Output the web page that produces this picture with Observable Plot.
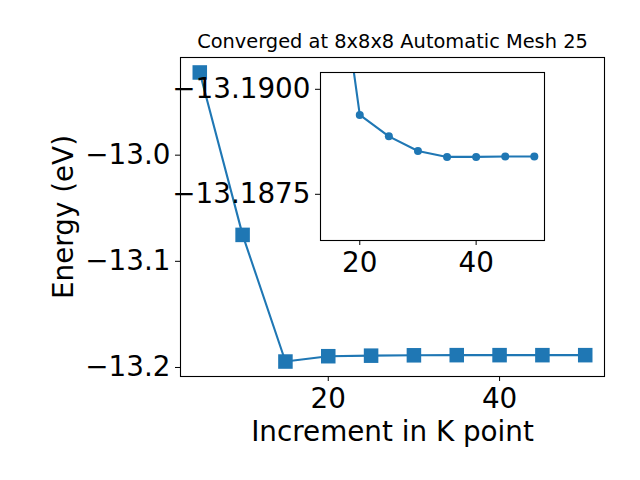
<!DOCTYPE html>
<html>
<head>
<meta charset="utf-8">
<script src="https://cdn.jsdelivr.net/npm/d3@7"></script>
<script src="https://cdn.jsdelivr.net/npm/@observablehq/plot@0.6"></script>
<style>
  html, body { margin: 0; padding: 0; background: white; }
  #wrap { position: relative; width: 640px; height: 480px; }
  #wrap svg { position: absolute; left: 0; top: 0; }
</style>
</head>
<body>
<div id="wrap"></div>
<script>
// Data
const kpoints = [5, 10, 15, 20, 25, 30, 35, 40, 45, 50];
const energies = [-12.9221, -13.0751, -13.1944, -13.18939, -13.18888, -13.18853, -13.18839, -13.18839, -13.18840, -13.18840];
const mainXTicks = [20, 40];
const mainYTicks = [-13.0, -13.1, -13.2];
const insetXTicks = [20, 40];
const insetYTicks = [-13.19, -13.1875];
const titleText = "Converged at 8x8x8 Automatic Mesh 25";
const xLabel = "Increment in K point";
const yLabel = "Energy (eV)";

const color = "#1f77b4";
const data = kpoints.map((k, i) => ({k, e: energies[i]}));
const insetData = data.filter(d => d.k >= 15);

const mainPlot = Plot.plot({
  width: 640,
  height: 480,
  marginLeft: 180,
  marginRight: 36,
  marginTop: 57,
  marginBottom: 104,
  style: {fontFamily: "DejaVu Sans", fontSize: "27.8px", background: "white", overflow: "visible"},
  x: {domain: [2.75, 52.25], ticks: mainXTicks, tickFormat: d3.format("d"), tickSize: 5, tickPadding: 7, label: null},
  y: {domain: [-13.2085, -12.908], ticks: mainYTicks, tickFormat: d3.format(".1f"), tickSize: 5, tickPadding: 5, label: null},
  marks: [
    Plot.line(data, {x: "k", y: "e", stroke: color, strokeWidth: 2.1}),
    Plot.dot(data, {x: "k", y: "e", symbol: "square", r: 8.2, fill: color}),
    Plot.frame({stroke: "black", strokeWidth: 1.1}),
    Plot.text([titleText], {frameAnchor: "top", text: d => d, dy: -10, textAnchor: "middle", lineAnchor: "bottom", fontSize: 19.4, fill: "black"}),
    Plot.text([xLabel], {frameAnchor: "bottom", text: d => d, dy: 64, textAnchor: "middle", lineAnchor: "bottom", fontSize: 27.8, fill: "black"}),
    Plot.text([yLabel], {frameAnchor: "left", text: d => d, dx: -108, rotate: -90, textAnchor: "middle", lineAnchor: "bottom", fontSize: 27.8, fill: "black"})
  ]
});

const insetPlot = Plot.plot({
  width: 640,
  height: 480,
  marginLeft: 320,
  marginRight: 96,
  marginTop: 72,
  marginBottom: 240,
  style: {fontFamily: "DejaVu Sans", fontSize: "27.8px", background: "transparent", overflow: "visible"},
  x: {domain: [13.25, 51.75], ticks: insetXTicks, tickFormat: d3.format("d"), tickSize: 5, tickPadding: 7, label: null},
  y: {domain: [-13.1864, -13.1904], ticks: insetYTicks, tickFormat: d3.format(".4f"), tickSize: 5, tickPadding: 5, label: null},
  marks: [
    Plot.frame({fill: "white"}),
    Plot.line(insetData, {x: "k", y: "e", stroke: color, strokeWidth: 2.1, clip: true}),
    Plot.dot(insetData, {x: "k", y: "e", r: 4, fill: color, clip: true}),
    Plot.frame({stroke: "black", strokeWidth: 1.1})
  ]
});

const wrap = document.getElementById("wrap");
wrap.appendChild(mainPlot);
wrap.appendChild(insetPlot);
</script>
</body>
</html>
